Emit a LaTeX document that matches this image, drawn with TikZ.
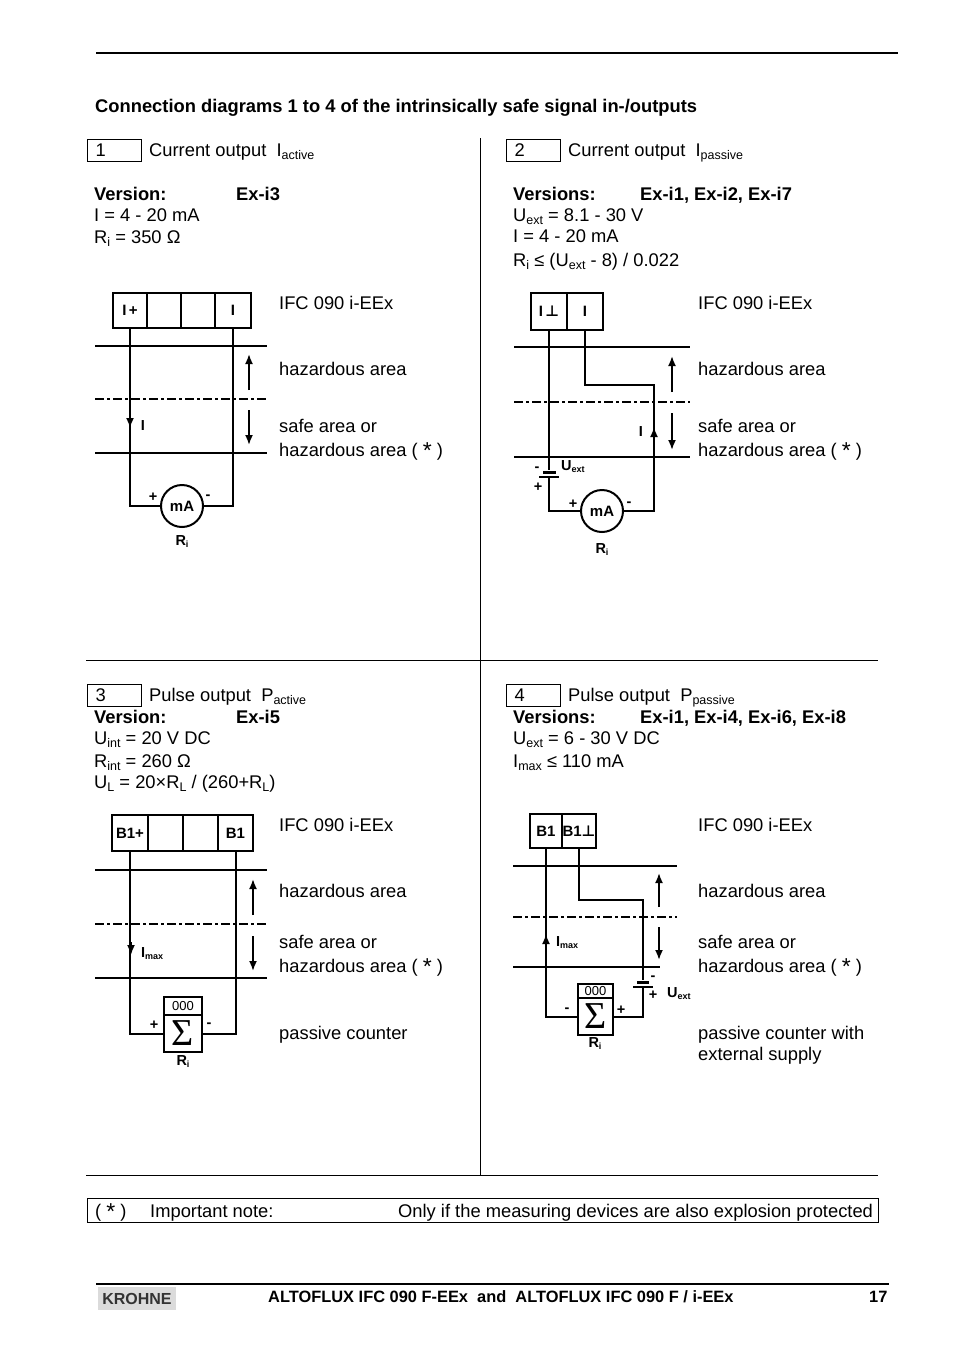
\documentclass[tikz,border=0pt]{standalone}
\usepackage{fontspec}
\setmainfont{Liberation Sans}
\newfontfamily\perpfont{DejaVu Sans}
\newfontfamily\sigmafont{Liberation Serif}
\usetikzlibrary{arrows.meta}
\newcommand{\sbs}[1]{\raisebox{-3pt}{\fontsize{12.5}{13}\selectfont #1}}
\newcommand{\lsb}[1]{\raisebox{-2pt}{\fontsize{9}{9}\selectfont\bfseries #1}}
\newcommand{\strm}{{\fontsize{23}{21}\selectfont\raisebox{-2pt}{*}}}

\begin{document}
\begin{tikzpicture}[x=1pt,y=-1pt]
        \tikzset{txt/.style = {anchor=base west,inner sep=0pt,font=\fontsize{18.33}{21}\selectfont}}
        \tikzset{hdr/.style = {txt,font=\fontsize{18.33}{21}\selectfont\bfseries}}
        \tikzset{lbl/.style = {inner sep=0pt,font=\fontsize{14.5}{15}\selectfont\bfseries}}
        \tikzset{numbox/.style = {draw,line width=1pt,inner sep=0pt,minimum width=54pt,minimum height=22pt,text width=37pt,align=left,font=\fontsize{18.33}{21}\selectfont}}
        \tikzset{cell/.style = {draw,line width=2.5pt,inner sep=0pt,font=\fontsize{15}{16}\selectfont\bfseries}}
        \tikzset{meter/.style = {cell,shape=circle,line width=2pt,minimum size=42pt}}
        \tikzset{wire/.style = {line width=2pt}}
        \tikzset{rule/.style = {line width=2pt}}
        \tikzset{thinrule/.style = {line width=1pt}}
        \tikzset{zonearrow/.style = {line width=1.8pt,-{Latex[length=10pt,width=8pt]}}}
        \tikzset{plate/.style = {fill=black,inner sep=0pt}}
        \useasboundingbox (0,0) rectangle (954,1358);
        % page rules
        \coordinate (topa) at (96,53);
        \coordinate (topb) at (898,53);
        \coordinate (foota) at (96,1284);
        \coordinate (footb) at (889,1284);
        \coordinate (mida) at (86,660);
        \coordinate (midb) at (878,660);
        \coordinate (bota) at (86,1175);
        \coordinate (botb) at (878,1175);
        \coordinate (vera) at (480,138);
        \coordinate (verb) at (480,1175);
        \draw[rule] (topa) -- (topb);
        \draw[rule] (foota) -- (footb);
        \draw[thinrule] (mida) -- (midb);
        \draw[thinrule] (bota) -- (botb);
        \draw[thinrule] (vera) -- (verb);
        % title
        \node[hdr] (title) at (95,112) {Connection diagrams 1 to 4 of the intrinsically safe signal in-/outputs};
        % panel heads
        \node[numbox] (n1) at (114,150) {1};
        \node[numbox] (n2) at (533,150) {2};
        \node[numbox] (n3) at (114,695) {3};
        \node[numbox] (n4) at (533,695) {4};
        \node[txt] (h1) at (149,156) {Current output\ \ I\sbs{active}};
        \node[txt] (h2) at (568,156) {Current output\ \ I\sbs{passive}};
        \node[txt] (h3) at (149,701) {Pulse output\ \ P\sbs{active}};
        \node[txt] (h4) at (568,701) {Pulse output\ \ P\sbs{passive}};
        % panel data
        \node[hdr] (v1) at (94,200) {Version:};
        \node[hdr] (e1) at (236,200) {Ex-i3};
        \node[txt] (d1a) at (94,221) {I = 4 - 20 mA};
        \node[txt] (d1b) at (94,243) {R\sbs{i} = 350 Ω};
        \node[hdr] (v2) at (513,200) {Versions:};
        \node[hdr] (e2) at (640,200) {Ex-i1, Ex-i2, Ex-i7};
        \node[txt] (d2a) at (513,221) {U\sbs{ext} = 8.1 - 30 V};
        \node[txt] (d2b) at (513,242) {I = 4 - 20 mA};
        \node[txt] (d2c) at (513,266) {R\sbs{i} ≤ (U\sbs{ext} - 8) / 0.022};
        \node[hdr] (v3) at (94,723) {Version:};
        \node[hdr] (e3) at (236,723) {Ex-i5};
        \node[txt] (d3a) at (94,744) {U\sbs{int} = 20 V DC};
        \node[txt] (d3b) at (94,767) {R\sbs{int} = 260 Ω};
        \node[txt] (d3c) at (94,788) {U\sbs{L} = 20×R\sbs{L} / (260+R\sbs{L})};
        \node[hdr] (v4) at (513,723) {Versions:};
        \node[hdr] (e4) at (640,723) {Ex-i1, Ex-i4, Ex-i6, Ex-i8};
        \node[txt] (d4a) at (513,744) {U\sbs{ext} = 6 - 30 V DC};
        \node[txt] (d4b) at (513,767) {I\sbs{max} ≤ 110 mA};
        % area texts
        \foreach \n/\xt/\ya/\yb/\yc/\yd in {1/279/309/375/432/456,2/698/309/375/432/456,3/279/831/897/948/972,4/698/831/897/948/972} {
            \node[txt] (ifc\n) at (\xt,\ya) {IFC 090 i-EEx};
            \node[txt] (haz\n) at (\xt,\yb) {hazardous area};
            \node[txt] (safe\n) at (\xt,\yc) {safe area or};
            \node[txt] (star\n) at (\xt,\yd) {hazardous area ( \strm\ )};
        }
        \node[txt] (pc3) at (279,1039) {passive counter};
        \node[txt] (pc4a) at (698,1039) {passive counter with};
        \node[txt] (pc4b) at (698,1060) {external supply};
        % zone lines
        \foreach \n/\xa/\xb/\ya/\yb/\yc/\xc in {1/95/267/346/399/453/267,2/514/690/347/402/457/690,3/95/267/870/924/978/267,4/513/677/866/917/967/660} {
            \coordinate (za\n) at (\xa,\ya);
            \coordinate (zb\n) at (\xb,\ya);
            \coordinate (zc\n) at (\xa,\yb);
            \coordinate (zd\n) at (\xb,\yb);
            \coordinate (ze\n) at (\xa,\yc);
            \coordinate (zf\n) at (\xc,\yc);
            \draw[rule] (za\n) -- (zb\n);
            \draw[rule,dash pattern=on 9pt off 3pt on 3pt off 3pt] (zc\n) -- (zd\n);
            \draw[rule] (ze\n) -- (zf\n);
        }
        % terminals
        \node[cell,minimum width=34pt,minimum height=35pt] (t1a) at (130,310.5) {I\,+};
        \node[cell,minimum width=34pt,minimum height=35pt] (t1b) at (164,310.5) {};
        \node[cell,minimum width=34pt,minimum height=35pt] (t1c) at (198,310.5) {};
        \node[cell,minimum width=36pt,minimum height=35pt] (t1d) at (233,310.5) {I};
        \node[cell,minimum width=36pt,minimum height=37pt] (t2a) at (549,311.5) {I\,{\perpfont ⊥}};
        \node[cell,minimum width=36pt,minimum height=37pt] (t2b) at (585,311.5) {I};
        \node[cell,minimum width=36pt,minimum height=36pt] (t3a) at (130,833) {B1+};
        \node[cell,minimum width=35pt,minimum height=36pt] (t3b) at (165.5,833) {};
        \node[cell,minimum width=35pt,minimum height=36pt] (t3c) at (200.5,833) {};
        \node[cell,minimum width=35pt,minimum height=36pt] (t3d) at (235.5,833) {B1};
        \node[cell,minimum width=32pt,minimum height=34pt] (t4a) at (546,831) {B1};
        \node[cell,minimum width=34pt,minimum height=34pt] (t4b) at (579,831) {B1{\perpfont ⊥}};
        % meters and counters
        \node[meter] (mA1) at (182,506) {mA};
        \node[meter] (mA2) at (602,511) {mA};
        \node[cell,minimum width=38pt,minimum height=18pt,font=\fontsize{13}{13}\selectfont] (c3t) at (183,1006) {000};
        \node[cell,minimum width=38pt,minimum height=37pt,font=\fontsize{38}{38}\sigmafont] (c3s) at (183,1033.5) {Σ};
        \node[cell,minimum width=35pt,minimum height=14pt,font=\fontsize{13}{13}\selectfont] (c4t) at (595.5,991) {000};
        \node[cell,minimum width=35pt,minimum height=37pt,font=\fontsize{38}{38}\sigmafont] (c4s) at (595.5,1016.5) {Σ};
        % batteries
        \node[plate,minimum width=13pt,minimum height=3pt] (b2s) at (549,472) {};
        \node[plate,minimum width=20pt,minimum height=1.5pt] (b2l) at (549,477) {};
        \node[plate,minimum width=12pt,minimum height=3pt] (b4s) at (643,982) {};
        \node[plate,minimum width=20pt,minimum height=1.5pt] (b4l) at (643,987) {};
        % wires
        \coordinate (k2) at (654,385);
        \coordinate (k4) at (643,900);
        \draw[wire] (t1a.south) |- (mA1.west);
        \draw[wire] (t1d.south) |- (mA1.east);
        \draw[wire] (t2a.south) -- (b2s.north);
        \draw[wire] (b2l.south) |- (mA2.west);
        \draw[wire] (t2b.south) |- (k2) |- (mA2.east);
        \draw[wire] (t3a.south) |- (c3s.west);
        \draw[wire] (t3d.south) |- (c3s.east);
        \draw[wire] (t4a.south) |- (c4s.west);
        \draw[wire] (t4b.south) |- (k4) -- (b4s.north);
        \draw[wire] (b4l.south) |- (c4s.east);
        % arrows
        \foreach \n/\x/\ya/\yb in {u1/249/390/354,d1/249/410/445,i1/130/415/428,u2/672/392/356,d2/672/413/450,i2/654/445/427,u3/253/915/879,d3/253/936/971,i3/131/942/955,u4/659/907/873,d4/659/927/960,i4/546/948/934} {
            \coordinate (\n a) at (\x,\ya);
            \coordinate (\n b) at (\x,\yb);
            \draw[zonearrow] (\n a) -- (\n b);
        }
        % small labels
        \node[lbl] (l1i) at (143,426) {I};
        \node[lbl] (l1p) at (153,497) {+};
        \node[lbl] (l1m) at (208,497) {-};
        \node[lbl] (l1r) at (182,542) {R\lsb{i}};
        \node[lbl] (l2i) at (641,432) {I};
        \node[lbl] (l2p) at (573,504) {+};
        \node[lbl] (l2m) at (629,504) {-};
        \node[lbl] (l2r) at (602,550) {R\lsb{i}};
        \node[lbl] (l2n) at (537,469) {-};
        \node[lbl] (l2q) at (538,487) {+};
        \node[lbl,anchor=west] (l2u) at (561,467) {U\lsb{ext}};
        \node[lbl,anchor=west] (l3i) at (141,954) {I\lsb{max}};
        \node[lbl] (l3p) at (154,1025) {+};
        \node[lbl] (l3m) at (209,1025) {-};
        \node[lbl] (l3r) at (183,1061) {R\lsb{i}};
        \node[lbl,anchor=west] (l4i) at (556,943) {I\lsb{max}};
        \node[lbl] (l4m) at (567,1010) {-};
        \node[lbl] (l4p) at (621,1010) {+};
        \node[lbl] (l4r) at (595,1043) {R\lsb{i}};
        \node[lbl] (l4n) at (653,978) {-};
        \node[lbl] (l4q) at (653,995) {+};
        \node[lbl,anchor=west] (l4u) at (667,994) {U\lsb{ext}};
        % note
        \node[draw,line width=1pt,inner sep=0pt,minimum width=791pt,minimum height=24pt] (note) at (482.5,1210) {};
        \node[txt] (nt1) at (95,1217) {( \strm\ )};
        \node[txt] (nt2) at (150,1217) {Important note:};
        \node[txt] (nt3) at (398,1217) {Only if the measuring devices are also explosion protected};
        % footer
        \node[fill=black!14,inner sep=0pt,minimum width=78pt,minimum height=23pt,text=black!80,font=\fontsize{16}{16}\selectfont\bfseries] (logo) at (137,1298.5) {KROHNE};
        \node[txt,font=\fontsize{16.4}{19}\selectfont\bfseries] (ft) at (268,1302) {ALTOFLUX IFC 090 F-EEx\ \ and\ \ ALTOFLUX IFC 090 F / i-EEx};
        \node[txt,font=\fontsize{16.4}{19}\selectfont\bfseries] (pg) at (869,1302) {17};
\end{tikzpicture}
\end{document}
